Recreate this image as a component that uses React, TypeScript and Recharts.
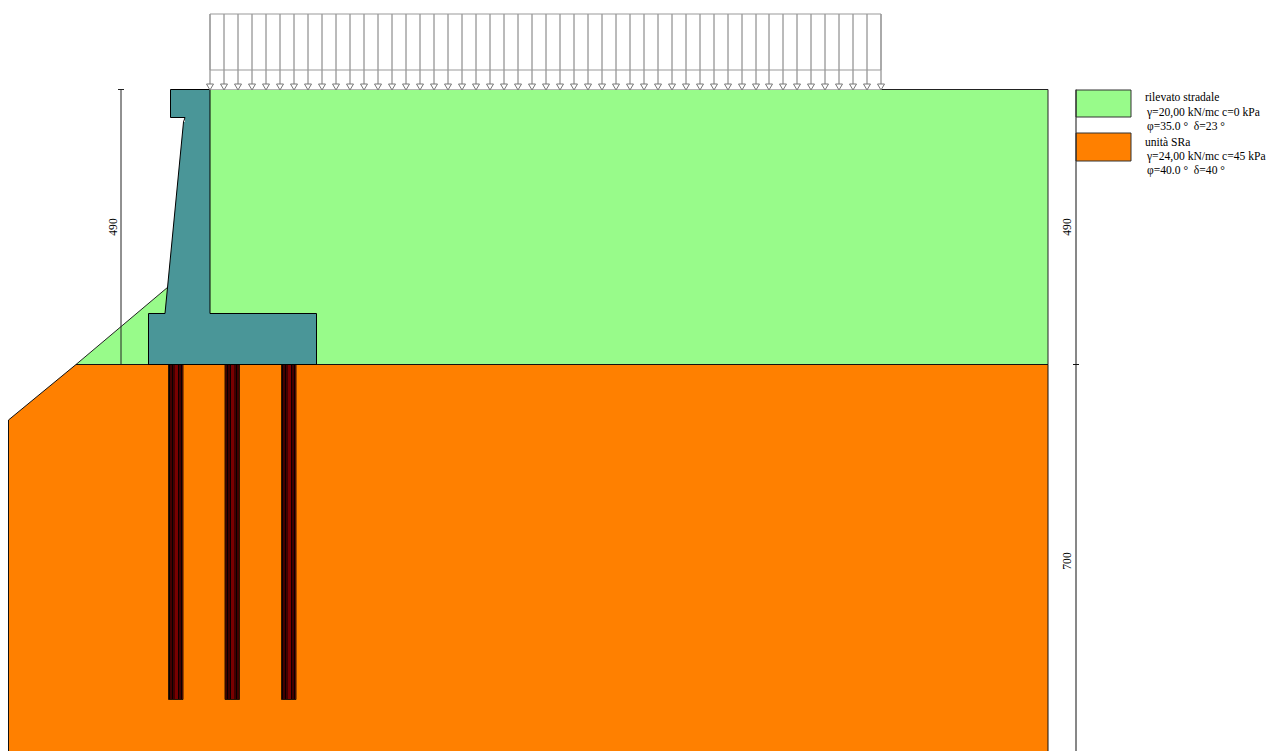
import { ComposedChart, Area, Line, XAxis, YAxis, LabelList } from "recharts"

const loadX = [
  210, 224, 238, 252, 266, 280, 294, 308, 322, 336, 350, 364, 378, 392, 406, 420, 434,
  448, 462, 476, 490, 504, 518, 532, 546, 560, 574, 588, 602, 616, 630, 644, 658, 672,
  686, 700, 714, 728, 742, 756, 769, 783, 797, 811, 825, 839, 853, 867, 881,
]
const loadTop = 14
const loadMid = 70
const loadTip = 84
const loadBase = 90
const groundY = 364.5
const pageBottom = 751

const embankment = [
  { x: 76, band: [364.5, 364.5] },
  { x: 168, band: [287, 364.5] },
  { x: 210, band: [287, 364.5] },
  { x: 210, band: [89.5, 364.5] },
  { x: 1048, band: [89.5, 364.5] },
]
const embankmentEdge = [
  { x: 76, y: 364.5 }, { x: 168, y: 287 },
]
const embankmentTop = [
  { x: 210, y: 89.5 }, { x: 1048, y: 89.5 }, { x: 1048, y: 364.5 },
]
const soil = [
  { x: 8.5, band: [420, 751] },
  { x: 76, band: [364.5, 751] },
  { x: 1048, band: [364.5, 751] },
]
const soilEdge = [
  { x: 8.5, y: 751 }, { x: 8.5, y: 420 }, { x: 76, y: 364.5 }, { x: 1048, y: 364.5 }, { x: 1048, y: 751 },
]
const wallHead = [
  { x: 170.5, band: [89.5, 117.5] },
  { x: 185, band: [89.5, 117.5] },
]
const wallBody = [
  { x: 148.5, band: [313.5, 364.5] },
  { x: 165, band: [313.5, 364.5] },
  { x: 183.5, band: [122, 364.5] },
  { x: 185, band: [122, 364.5] },
  { x: 185, band: [89.5, 364.5] },
  { x: 210, band: [89.5, 364.5] },
  { x: 210, band: [313.5, 364.5] },
  { x: 316.5, band: [313.5, 364.5] },
]
const wallEdge = [
  { x: 170.5, y: 89.5 }, { x: 210, y: 89.5 }, { x: 210, y: 313.5 }, { x: 316.5, y: 313.5 },
  { x: 316.5, y: 364.5 }, { x: 148.5, y: 364.5 }, { x: 148.5, y: 313.5 }, { x: 165, y: 313.5 },
  { x: 183.5, y: 122 }, { x: 185, y: 117.5 }, { x: 170.5, y: 117.5 }, { x: 170.5, y: 89.5 },
]

const pileLeft = [168.5, 225, 281.5]
const pileWidth = 14.5
const pileBottom = 699.5
const barOffsets = [1, 2.5, 4, 5.5, 10, 11.5, 13]

const leftDim = [
  { x: 121, y: 89.5 }, { x: 121, y: groundY }, { x: 121, y: null },
  { x: 118, y: 89.5 }, { x: 124, y: 89.5 },
]
const rightDim = [
  { x: 1076, y: 89.5 }, { x: 1076, y: pageBottom }, { x: 1076, y: null },
  { x: 1073, y: groundY }, { x: 1079, y: groundY },
]

const swatches = [
  { name: "rilevato", color: "#98fb8a", top: 90, bottom: 117 },
  { name: "SRa", color: "#ff8000", top: 133, bottom: 161 },
]
const swatchLeft = 1076
const swatchRight = 1131

const legendLines = [
  { x: 1145, y: 97, text: "rilevato stradale" },
  { x: 1147, y: 112, text: "γ=20,00 kN/mc c=0 kPa" },
  { x: 1147, y: 126, text: "φ=35.0 °  δ=23 °" },
  { x: 1145, y: 142, text: "unità SRa" },
  { x: 1147, y: 156, text: "γ=24,00 kN/mc c=45 kPa" },
  { x: 1147, y: 170, text: "φ=40.0 °  δ=40 °" },
]
const dimLabels = [
  { x: 113, y: 227, text: "490" },
  { x: 1067, y: 227, text: "490" },
  { x: 1067, y: 561, text: "700" },
]

const GREEN = "#98fb8a"
const ORANGE = "#ff8000"
const WALL = "#4a9698"
const EDGE = "#000000"
const LOAD = "#777777"

const loadShafts = loadX.flatMap(x => [
  { x, y: loadTop },
  { x, y: loadTip },
  { x, y: null },
])
const loadFrame = [
  { x: 210, y: loadMid }, { x: 881, y: loadMid }, { x: 881, y: loadTop }, { x: 210, y: loadTop }, { x: 210, y: loadMid },
]
const loadGround = [{ x: 210, y: 89.5 }, { x: 881, y: 89.5 }]
const loadTips = loadX.map(x => ({ x, y: loadBase }))

function ArrowTip({ cx, cy, index }: any) {
  return (
    <polygon
      key={index}
      points={`${cx - 3.5},${cy - 6} ${cx + 3.5},${cy - 6} ${cx},${cy}`}
      fill="#fff"
      stroke="#777"
      strokeWidth={1}
    />
  )
}

function legendText({ x, y, value }: any) {
  return (
    <text x={x} y={y} dy={3.5} fontFamily="Liberation Serif" fontSize={11.6} fill="#000" style={{ whiteSpace: "pre" }}>
      {value}
    </text>
  )
}

function dimText({ x, y, value }: any) {
  return (
    <text
      x={x}
      y={y}
      transform={`rotate(-90 ${x} ${y})`}
      textAnchor="middle"
      dominantBaseline="central"
      fontFamily="Liberation Serif"
      fontSize={11.6}
      fill="#000"
    >
      {value}
    </text>
  )
}

function edge(key: string, data: any[], color = EDGE, width = 1) {
  return (
    <Line
      key={key}
      data={data}
      dataKey="y"
      stroke={color}
      strokeWidth={width}
      dot={false}
      activeDot={false}
      legendType="none"
      isAnimationActive={false}
    />
  )
}

function band(key: string, data: any[], color: string) {
  return (
    <Area
      key={key}
      data={data}
      dataKey="band"
      type="linear"
      fill={color}
      fillOpacity={1}
      stroke="none"
      dot={false}
      activeDot={false}
      isAnimationActive={false}
    />
  )
}

export default function App() {
  return (
    <div style={{ position: "absolute", left: 0, top: 0, width: 1267, height: 751, background: "#fff" }}>
      <ComposedChart width={1267} height={751} margin={{ top: 0, right: 0, bottom: 0, left: 0 }}>
        <XAxis type="number" dataKey="x" domain={[0, 1267]} allowDataOverflow hide />
        <YAxis type="number" domain={[0, 751]} reversed allowDataOverflow hide width={0} />

        {band("soil", soil, ORANGE)}
        {band("embankment", embankment, GREEN)}
        {edge("embankmentEdge", embankmentEdge, "#222")}
        {edge("embankmentTop", embankmentTop, "#222")}
        {edge("soilEdge", soilEdge, "#111")}

        {edge("leftDim", leftDim, "#222")}
        {edge("rightDim", rightDim, "#111")}

        {pileLeft.map((left, i) =>
          band(`pile${i}`, [
            { x: left, band: [groundY, pileBottom] },
            { x: left + pileWidth, band: [groundY, pileBottom] },
          ], "#7a0000")
        )}
        {pileLeft.flatMap((left, i) =>
          barOffsets.map((off, j) =>
            edge(`bar${i}-${j}`, [
              { x: left + off, y: groundY },
              { x: left + off, y: pileBottom },
            ], "#0a0000", 1)
          )
        )}
        {pileLeft.map((left, i) =>
          edge(`pileEdge${i}`, [
            { x: left, y: groundY }, { x: left, y: pileBottom },
            { x: left + pileWidth, y: pileBottom }, { x: left + pileWidth, y: groundY },
          ], "#2a1500")
        )}

        {band("wallBody", wallBody, WALL)}
        {band("wallHead", wallHead, WALL)}
        {edge("wallEdge", wallEdge, EDGE)}

        {edge("loadShafts", loadShafts, LOAD)}
        {edge("loadFrame", loadFrame, "#999")}
        {edge("loadGround", loadGround, "#b5b5b5")}
        <Line
          data={loadTips}
          dataKey="y"
          stroke="none"
          dot={ArrowTip}
          activeDot={false}
          isAnimationActive={false}
        />

        {swatches.map(s =>
          band(`swatch-${s.name}`, [
            { x: swatchLeft, band: [s.top, s.bottom] },
            { x: swatchRight, band: [s.top, s.bottom] },
          ], s.color)
        )}
        {swatches.map(s =>
          edge(`swatchEdge-${s.name}`, [
            { x: swatchLeft, y: s.top }, { x: swatchRight, y: s.top }, { x: swatchRight, y: s.bottom },
            { x: swatchLeft, y: s.bottom }, { x: swatchLeft, y: s.top },
          ], "#333")
        )}

        <Line data={legendLines} dataKey="y" stroke="none" dot={false} activeDot={false} isAnimationActive={false}>
          <LabelList dataKey="text" content={legendText} />
        </Line>
        <Line data={dimLabels} dataKey="y" stroke="none" dot={false} activeDot={false} isAnimationActive={false}>
          <LabelList dataKey="text" content={dimText} />
        </Line>
      </ComposedChart>
    </div>
  )
}
